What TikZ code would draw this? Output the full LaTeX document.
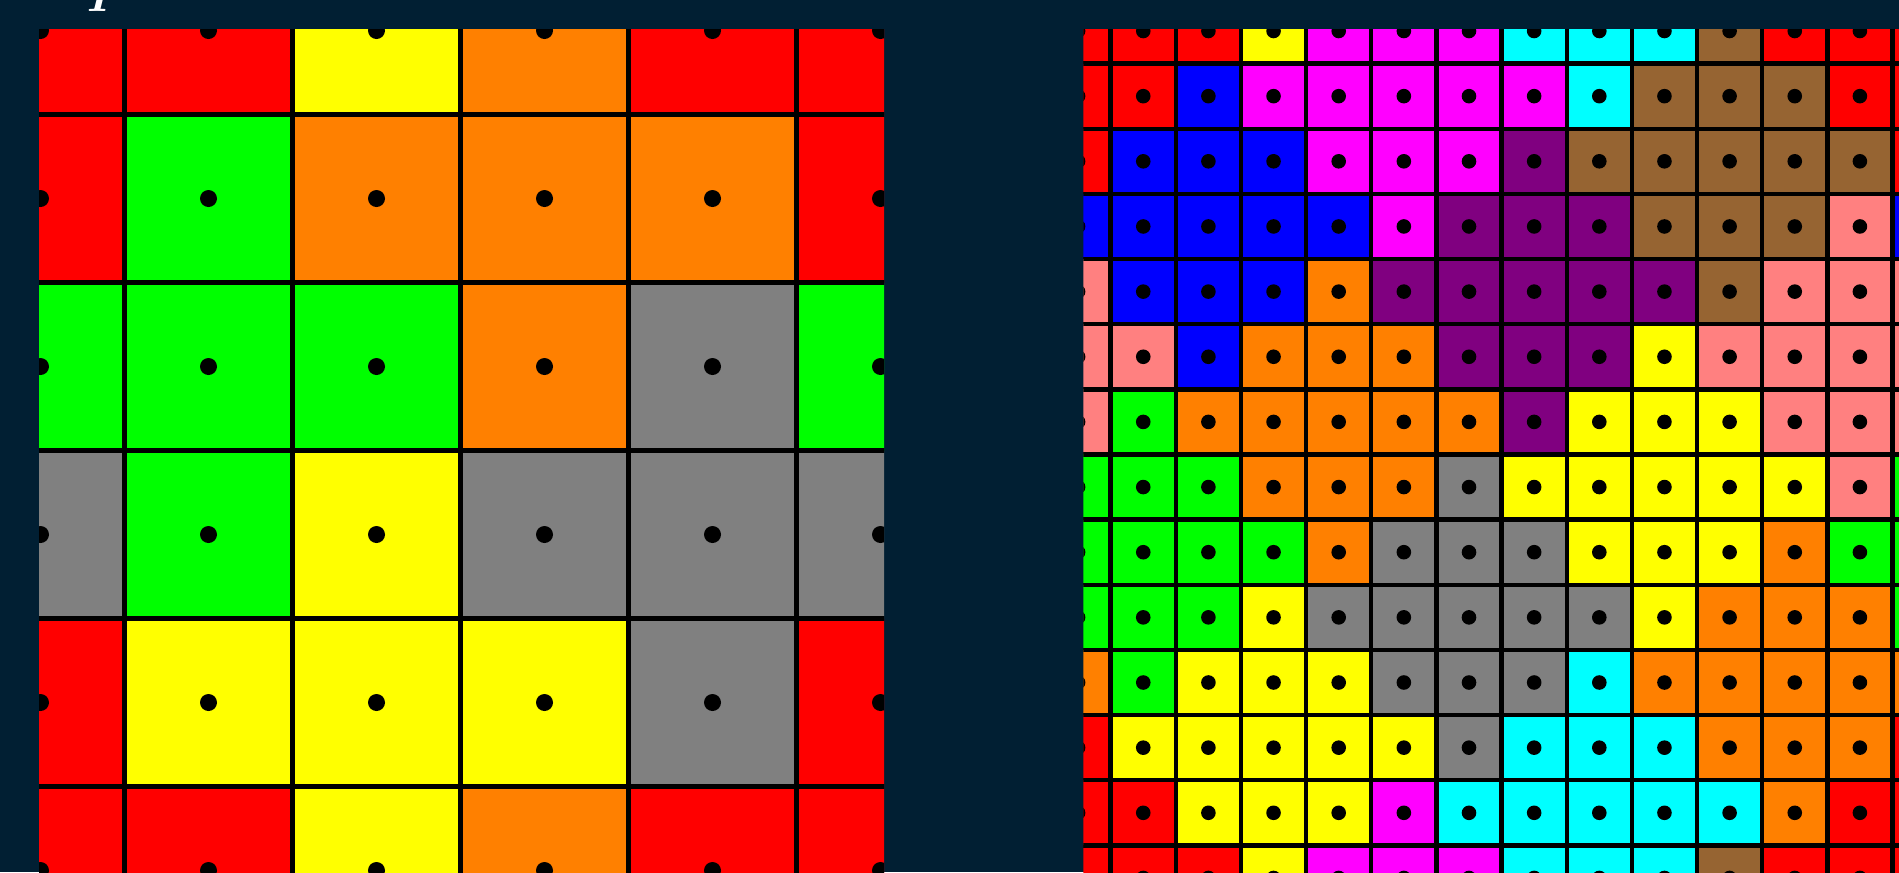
\documentclass[tikz,border=0pt]{standalone}
\usepackage{xcolor}
\usepackage{tikz}
\definecolor{bgnavy}{RGB}{1,31,51}
\definecolor{cred}{RGB}{255,0,0}
\definecolor{cyel}{RGB}{255,255,0}
\definecolor{cora}{RGB}{255,128,0}
\definecolor{cgrn}{RGB}{0,255,0}
\definecolor{cgry}{RGB}{128,128,128}
\definecolor{cblu}{RGB}{0,0,255}
\definecolor{cmag}{RGB}{255,0,255}
\definecolor{ccya}{RGB}{0,255,255}
\definecolor{cpur}{RGB}{128,0,128}
\definecolor{cbrn}{RGB}{150,100,50}
\definecolor{cpnk}{RGB}{255,128,128}

\begin{document}
\begin{tikzpicture}[
  x=0.01cm,y=-0.01cm,
  coarsecell/.style={draw=black,line width=0.048cm},
  finecell/.style={draw=black,line width=0.044cm},
  seed/.style={fill=black},
  glyph/.style={text=white,anchor=base,inner sep=0pt,font=\fontsize{13}{13}\selectfont\bfseries\itshape}
]

\fill[bgnavy] (0,0) rectangle (1899,872);
\useasboundingbox (0,0) rectangle (1899,872);

\node[glyph] (lefttitle) at (97,11.5) {I};

\begin{scope}
\clip (39,29) rectangle (884,880);
\foreach \row [count=\i from 0] in {
  {cred,cred,cyel,cora,cred},
  {cred,cgrn,cora,cora,cora},
  {cgrn,cgrn,cgrn,cora,cgry},
  {cgry,cgrn,cyel,cgry,cgry},
  {cred,cyel,cyel,cyel,cgry}}{
  \foreach \c [count=\j from 0] in \row {
    \foreach \a in {0,1}{
      \foreach \b in {0,1}{
        \filldraw[coarsecell,fill=\c] ({40.5+168*(\j+5*\b)-84},{30.5+168*(\i+5*\a)-84}) rectangle +(168,168);
      }
    }
  }
}
\foreach \i in {0,...,5}{
  \foreach \j in {0,...,5}{
    \fill[seed] ({40.5+168*\j},{30.5+168*\i}) circle (8.5);
  }
}
\end{scope}

\begin{scope}
\clip (1083.3,29) rectangle (1905,880);
\foreach \row [count=\i from 0] in {
  {cred,cred,cred,cyel,cmag,cmag,cmag,ccya,ccya,ccya,cbrn,cred,cred},
  {cred,cred,cblu,cmag,cmag,cmag,cmag,cmag,ccya,cbrn,cbrn,cbrn,cred},
  {cred,cblu,cblu,cblu,cmag,cmag,cmag,cpur,cbrn,cbrn,cbrn,cbrn,cbrn},
  {cblu,cblu,cblu,cblu,cblu,cmag,cpur,cpur,cpur,cbrn,cbrn,cbrn,cpnk},
  {cpnk,cblu,cblu,cblu,cora,cpur,cpur,cpur,cpur,cpur,cbrn,cpnk,cpnk},
  {cpnk,cpnk,cblu,cora,cora,cora,cpur,cpur,cpur,cyel,cpnk,cpnk,cpnk},
  {cpnk,cgrn,cora,cora,cora,cora,cora,cpur,cyel,cyel,cyel,cpnk,cpnk},
  {cgrn,cgrn,cgrn,cora,cora,cora,cgry,cyel,cyel,cyel,cyel,cyel,cpnk},
  {cgrn,cgrn,cgrn,cgrn,cora,cgry,cgry,cgry,cyel,cyel,cyel,cora,cgrn},
  {cgrn,cgrn,cgrn,cyel,cgry,cgry,cgry,cgry,cgry,cyel,cora,cora,cora},
  {cora,cgrn,cyel,cyel,cyel,cgry,cgry,cgry,ccya,cora,cora,cora,cora},
  {cred,cyel,cyel,cyel,cyel,cyel,cgry,ccya,ccya,ccya,cora,cora,cora},
  {cred,cred,cyel,cyel,cyel,cmag,ccya,ccya,ccya,ccya,ccya,cora,cred}}{
  \foreach \c [count=\j from 0] in \row {
    \foreach \a in {0,1}{
      \foreach \b in {0,1}{
        \filldraw[finecell,fill=\c] ({1078.1+65.15*(\j+13*\b)-32.575},{31+65.15*(\i+13*\a)-32.575}) rectangle +(65.15,65.15);
      }
    }
  }
}
\foreach \i in {0,...,13}{
  \foreach \j in {0,...,13}{
    \fill[seed] ({1078.1+65.15*\j},{31+65.15*\i}) circle (7.3);
  }
}
\end{scope}
\end{tikzpicture}
\end{document}
